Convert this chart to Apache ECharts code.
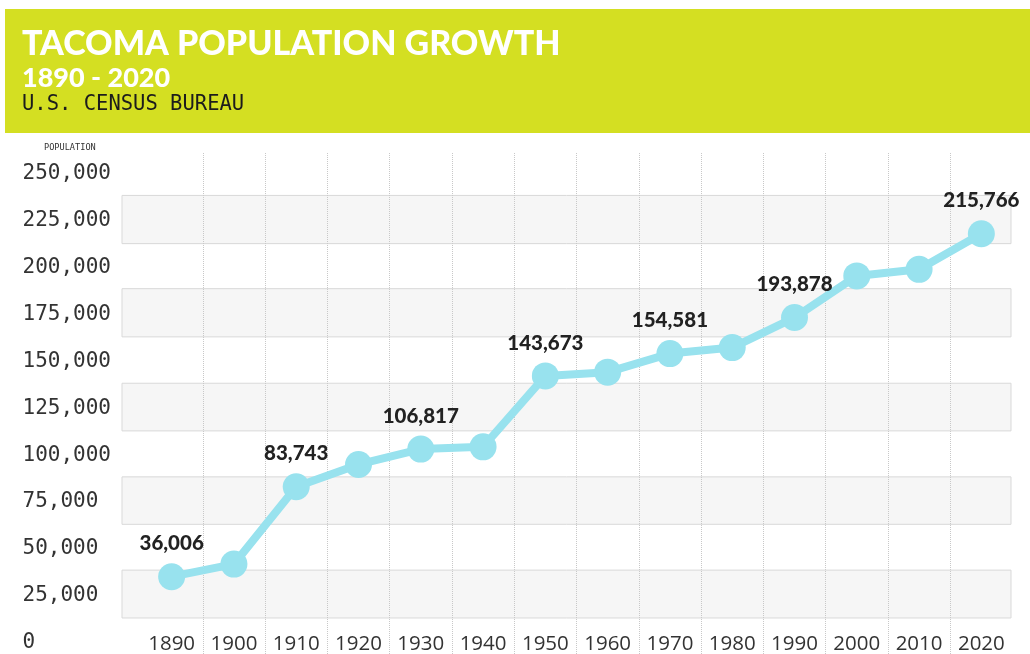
<!DOCTYPE html>
<html>
<head>
<meta charset="utf-8">
<title>Tacoma Population Growth</title>
<script src="https://cdn.jsdelivr.net/npm/echarts@6.0.0/dist/echarts.min.js"></script>
<style>
  html, body { margin: 0; padding: 0; background: #fff; }
  #chart { width: 1030px; height: 654px; }
</style>
</head>
<body>
<div id="chart"></div>
<script>
// census years on the x axis
const years = ['1890', '1900', '1910', '1920', '1930', '1940', '1950',
  '1960', '1970', '1980', '1990', '2000', '2010', '2020']

// population as plotted
const population = [35200, 41900, 83100, 95000, 103200, 104400, 142200,
  144200, 154100, 157300, 173300, 195500, 199000, 218000]

// text printed above some of the points
const pointLabels = ['36,006', '', '83,743', '', '106,817', '', '143,673',
  '', '154,581', '', '193,878', '', '', '215,766']

const yTicks = [0, 25000, 50000, 75000, 100000, 125000, 150000, 175000,
  200000, 225000, 250000]

// shaded background bands (population ranges)
const bandRanges = [[13200, 38700], [63100, 88400], [112900, 138300],
  [163000, 188700], [212700, 238400]]

const chart = echarts.init(document.getElementById('chart'))

const option = {
  animation: false,
  graphic: [
    {
      type: 'rect',
      shape: { x: 5, y: 9, width: 1025, height: 124 },
      style: { fill: '#d4df22' },
      z: -10
    },
    {
      type: 'text',
      x: 22,
      y: 44,
      style: {
        text: 'TACOMA POPULATION GROWTH',
        fill: '#ffffff',
        fontFamily: 'Lato',
        fontWeight: 900,
        fontSize: 34,
        verticalAlign: 'middle'
      }
    },
    {
      type: 'text',
      x: 22,
      y: 78,
      style: {
        text: '1890 - 2020',
        fill: '#ffffff',
        fontFamily: 'Lato',
        fontWeight: 900,
        fontSize: 27,
        verticalAlign: 'middle'
      }
    },
    {
      type: 'text',
      x: 22,
      y: 105,
      style: {
        text: 'U.S. CENSUS BUREAU',
        fill: '#1c1c1c',
        fontFamily: 'DejaVu Sans Mono',
        fontSize: 20.5,
        verticalAlign: 'middle'
      }
    },
    {
      type: 'text',
      x: 44,
      y: 148,
      style: {
        text: 'POPULATION',
        fill: '#333333',
        fontFamily: 'DejaVu Sans Mono',
        fontSize: 8.6,
        verticalAlign: 'middle'
      }
    }
  ],
  grid: {
    left: 140.5,
    right: 17.5,
    top: 153,
    bottom: 0,
    outerBoundsMode: 'none'
  },
  xAxis: {
    type: 'category',
    data: years,
    boundaryGap: true,
    z: 1.5,
    axisLine: { show: false },
    axisTick: { show: false },
    axisLabel: {
      inside: true,
      margin: 10,
      verticalAlign: 'middle',
      color: '#333333',
      fontFamily: 'Open Sans',
      fontSize: 20.5,
      interval: 0
    },
    splitLine: {
      show: true,
      showMinLine: false,
      showMaxLine: false,
      lineStyle: { color: '#c8c8c8', type: 'dotted', width: 1 }
    }
  },
  yAxis: {
    type: 'value',
    min: -6000,
    max: 261000,
    axisLine: { show: false },
    axisTick: { show: false },
    splitLine: { show: false },
    axisLabel: {
      customValues: yTicks,
      align: 'left',
      margin: 118,
      color: '#333333',
      fontFamily: 'DejaVu Sans Mono',
      fontSize: 21,
      formatter: v => v.toLocaleString('en-US')
    }
  },
  series: [
    {
      type: 'line',
      data: population,
      symbol: 'circle',
      symbolSize: 27,
      lineStyle: { color: '#98e2ee', width: 8 },
      itemStyle: { color: '#98e2ee' },
      label: {
        show: true,
        position: 'top',
        distance: 9,
        color: '#222222',
        fontFamily: 'Lato',
        fontWeight: 900,
        fontSize: 20.5,
        formatter: p => pointLabels[p.dataIndex]
      },
      markArea: {
        silent: true,
        itemStyle: { color: '#f6f6f6', borderColor: '#d9d9d9', borderWidth: 1 },
        data: bandRanges.map(r => [{ x: 122, yAxis: r[0] }, { x: 1011, yAxis: r[1] }])
      }
    }
  ]
}

chart.setOption(option)

window.addEventListener('resize', () => {
  chart.resize()
})
</script>
</body>
</html>
